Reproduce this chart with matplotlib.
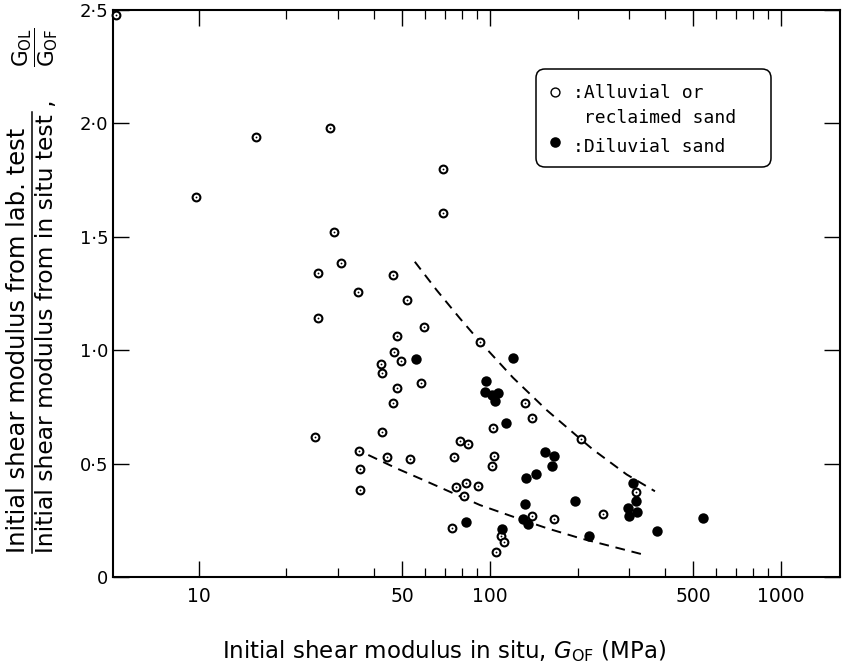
import matplotlib
matplotlib.use("Agg")
import matplotlib.pyplot as plt
from matplotlib.patches import FancyBboxPatch
from matplotlib.lines import Line2D
from matplotlib.transforms import Affine2D
import matplotlib.ticker as mticker

# Alluvial or reclaimed sand (open symbols)
alluvial_x = [5.19, 9.76, 15.7, 28.2, 29.1, 68.9, 68.9, 25.7, 30.7, 46.6,
              35.2, 51.8, 25.7, 59.4, 47.8, 92.5, 46.8, 49.3, 42.2, 42.5,
              57.9, 48.0, 46.6, 132, 140, 102.6, 25.1, 42.5, 78.9, 84.1,
              35.5, 44.4, 53.1, 75.4, 103.5, 101.8, 35.7, 35.7, 76.2, 82.8,
              81.7, 90.8, 140, 166, 73.8, 108.8, 111.6, 104.7, 205.6, 245, 317]
alluvial_y = [2.478, 1.675, 1.94, 1.98, 1.52, 1.80, 1.605, 1.342, 1.383, 1.332,
              1.258, 1.221, 1.141, 1.104, 1.063, 1.037, 0.993, 0.954, 0.938, 0.898,
              0.854, 0.832, 0.766, 0.769, 0.702, 0.656, 0.616, 0.641, 0.600, 0.586,
              0.557, 0.531, 0.520, 0.528, 0.535, 0.491, 0.475, 0.384, 0.398, 0.413,
              0.359, 0.403, 0.270, 0.254, 0.217, 0.182, 0.153, 0.109, 0.608, 0.276, 0.376]

# Diluvial sand (filled symbols)
diluvial_x = [55.7, 120, 96.8, 96.1, 101.4, 106.9, 104, 113.5, 155, 166,
              163, 133, 144, 132, 196, 129.5, 135.5, 82.6, 109.6, 219,
              311, 317, 298, 321, 301, 374, 541]
diluvial_y = [0.960, 0.964, 0.866, 0.817, 0.802, 0.813, 0.777, 0.678, 0.550, 0.534,
              0.489, 0.438, 0.454, 0.322, 0.336, 0.254, 0.234, 0.241, 0.212, 0.182,
              0.413, 0.336, 0.306, 0.288, 0.269, 0.204, 0.262]

# Upper and lower bounding curves
upper_x = [55.2, 65.6, 78.9, 92.5, 120, 157, 204, 226, 295, 369]
upper_y = [1.390, 1.265, 1.140, 1.037, 0.879, 0.735, 0.610, 0.562, 0.452, 0.378]
lower_x = [38.2, 47.8, 59.0, 74.9, 92.5, 120, 157, 204, 341]
lower_y = [0.538, 0.479, 0.428, 0.369, 0.317, 0.266, 0.215, 0.171, 0.097]

x_major = [10, 50, 100, 500, 1000]
x_major_labels = ["10", "50", "100", "500", "1000"]
x_minor = [20, 30, 40, 60, 70, 80, 90, 200, 300, 400, 600, 700, 800, 900]
y_ticks = [0, 0.5, 1.0, 1.5, 2.0, 2.5]
y_tick_labels = ["0", "0\u00b75", "1\u00b70", "1\u00b75", "2\u00b70", "2\u00b75"]

W, H = 843, 667
plt.rcParams["mathtext.fontset"] = "dejavusans"
plt.rcParams["font.family"] = ["DejaVu Sans"]
fig = plt.figure(figsize=(W / 100, H / 100), dpi=100)
fig.patch.set_facecolor("white")

# pixel coordinates, origin top-left
px = Affine2D().scale(1 / W, -1 / H).translate(0, 1) + fig.transFigure

ax = fig.add_axes([113 / W, 1 - 577 / H, (840 - 113) / W, (577 - 10) / H])
ax.set_xscale("log")
ax.set_xlim(5.07, 1595)
ax.set_ylim(0, 2.5)

dash = (0, (5, 3.5))
ax.plot(upper_x, upper_y, color="black", lw=1.4, ls=dash, zorder=2)
ax.plot(lower_x, lower_y, color="black", lw=1.4, ls=dash, zorder=2)

ax.plot(alluvial_x, alluvial_y, ls="none", marker="o", ms=5.6, mfc="white",
        mec="black", mew=1.5, clip_on=False, zorder=3)
ax.plot(alluvial_x, alluvial_y, ls="none", marker="o", ms=1.3, mfc="black",
        mec="black", mew=0, clip_on=False, zorder=4)
ax.plot(diluvial_x, diluvial_y, ls="none", marker="o", ms=7.5, mfc="black",
        mec="black", mew=0, clip_on=False, zorder=3)

ax.xaxis.set_major_locator(mticker.FixedLocator(x_major))
ax.xaxis.set_major_formatter(mticker.FixedFormatter(x_major_labels))
ax.xaxis.set_minor_locator(mticker.FixedLocator(x_minor))
ax.xaxis.set_minor_formatter(mticker.NullFormatter())
ax.set_yticks(y_ticks)
ax.set_yticklabels(y_tick_labels)
ax.yaxis.set_minor_locator(mticker.NullLocator())

ax.tick_params(which="both", direction="in", top=True, right=True, color="black")
ax.tick_params(which="major", length=11.5, width=1.0)
ax.tick_params(which="minor", length=6.5, width=0.9)
ax.tick_params(axis="x", which="major", labelsize=13.5, pad=7)
ax.tick_params(axis="y", labelsize=13, pad=3.5)
for s in ax.spines.values():
    s.set_linewidth(1.5)

# x-axis title
fig.text(222, 658, r"Initial shear modulus in situ, $G_{\mathrm{OF}}$ (MPa)",
         transform=px, ha="left", va="baseline", fontsize=16.5)

# y-axis title written as a fraction
fig.text(25, 553, "Initial shear modulus from lab. test", transform=px,
         rotation=90, rotation_mode="anchor", ha="left", va="baseline", fontsize=17.5)
fig.text(53, 553, "Initial shear modulus from in situ test ,", transform=px,
         rotation=90, rotation_mode="anchor", ha="left", va="baseline", fontsize=16.8)
fig.add_artist(Line2D([32, 32], [553, 112], transform=px, color="black", lw=1.1))
fig.text(35, 47, r"$\dfrac{\mathrm{G}_{\mathrm{OL}}}{\mathrm{G}_{\mathrm{OF}}}$",
         transform=px, rotation=90, ha="center", va="center", fontsize=15.5)

# legend box
box = FancyBboxPatch((536, 69), 235, 98, boxstyle="round,pad=0,rounding_size=9",
                     transform=px, fc="white", ec="black", lw=1.1, zorder=5)
fig.add_artist(box)
fig.add_artist(Line2D([555], [92], transform=px, marker="o", ms=6.4, mfc="white",
                      mec="black", mew=1.0, ls="none", zorder=6))
fig.add_artist(Line2D([555], [142], transform=px, marker="o", ms=7.6, mfc="black",
                      mec="black", mew=0, ls="none", zorder=6))
leg_kw = dict(transform=px, family="DejaVu Sans Mono", fontsize=13,
              ha="left", va="baseline", zorder=6)
fig.text(573, 98, ":Alluvial or", **leg_kw)
fig.text(573, 123, " reclaimed sand", **leg_kw)
fig.text(573, 152, ":Diluvial sand", **leg_kw)

fig.savefig("out.png", dpi=100, facecolor="white")
